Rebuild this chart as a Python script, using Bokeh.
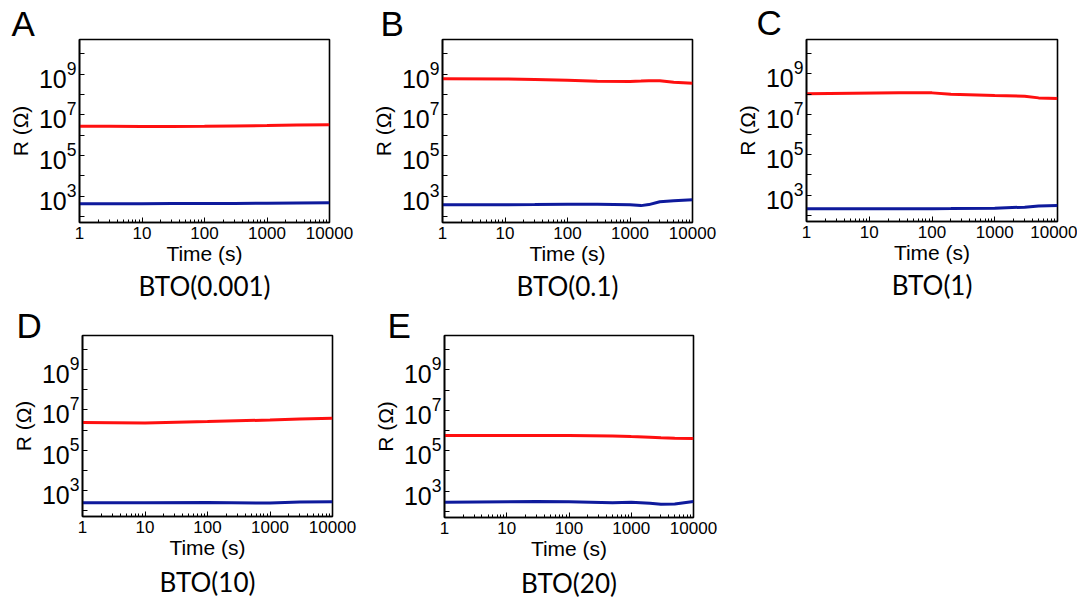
from bokeh.plotting import figure
from bokeh.layouts import row, column
from bokeh.models import FixedTicker, LogTickFormatter, PrintfTickFormatter, Title
from bokeh.embed import file_html
from bokeh.resources import INLINE

# ---------------- data ----------------
letters = ["A", "B", "C", "D", "E"]
subtitles = ["BTO(0.001)", "BTO(0.1)", "BTO(1)", "BTO(10)", "BTO(20)"]

# Panel A
t_A = [1, 3, 10, 30, 100, 300, 1000, 3000, 10000]
red_A = [2.75e6, 2.69e6, 2.63e6, 2.63e6, 2.69e6, 2.82e6, 2.95e6, 3.09e6, 3.24e6]
blue_A = [417, 417, 417, 427, 427, 437, 447, 457, 468]

# Panel B
t_B = [1, 10, 30, 100, 300, 1000, 1500, 2000, 3000, 5000, 10000]
red_B = [5.9e8, 5.75e8, 5.37e8, 5.01e8, 4.47e8, 4.27e8, 4.5e8, 4.68e8, 4.68e8, 3.98e8, 3.55e8]
blue_B = [372, 372, 380, 398, 398, 372, 339, 380, 525, 589, 661]

# Panel C
t_C = [1, 30, 100, 200, 1000, 3000, 5000, 10000]
red_C = [1.05e8, 1.15e8, 1.15e8, 9.8e7, 8.5e7, 7.8e7, 6.5e7, 6.0e7]
blue_C = [214, 214, 214, 218, 229, 257, 290, 309]

# Panel D
t_D = [1, 10, 100, 1000, 3000, 10000]
red_D = [2.34e6, 2.24e6, 2.63e6, 3.16e6, 3.55e6, 3.80e6]
blue_D = [240, 245, 251, 234, 263, 269]

# Panel E
t_E = [1, 30, 100, 500, 1000, 2000, 3000, 5000, 10000]
red_E = [5.62e5, 5.62e5, 5.62e5, 5.4e5, 5.01e5, 4.7e5, 4.37e5, 4.2e5, 4.07e5]
blue_E = [288, 309, 302, 269, 288, 257, 229, 234, 309]

# Axis ticks
y_major = [1e3, 1e5, 1e7, 1e9]
y_minor = [1e2, 1e4, 1e6, 1e8, 1e10]

RED = "#ff1010"
BLUE = "#0e1a9c"
FONT = "Liberation Sans"


def make_panel(letter, subtitle, t, red, blue, fw, fh, bl, br, bt, bb,
               let_off, let_standoff, sub_off, sub_standoff):
    p = figure(frame_width=fw, frame_height=fh,
               x_axis_type="log", y_axis_type="log",
               x_range=(1, 10000), y_range=(10 ** 1.7, 10 ** 10.7),
               output_backend="svg", toolbar_location=None,
               min_border_left=bl, min_border_right=br,
               min_border_top=bt, min_border_bottom=bb,
               background_fill_color="white", border_fill_color="white")
    p.line(t, red, line_color=RED, line_width=3)
    p.line(t, blue, line_color=BLUE, line_width=3)

    p.grid.visible = False
    p.outline_line_color = "black"
    p.outline_line_width = 1.6
    p.outline_line_alpha = 1.0

    for ax in (p.xaxis[0], p.yaxis[0]):
        ax.axis_line_color = "black"
        ax.axis_line_width = 1.6
        ax.major_tick_in = 5
        ax.major_tick_out = 0
        ax.minor_tick_in = 3
        ax.minor_tick_out = 0
        ax.major_tick_line_color = "black"
        ax.minor_tick_line_color = "black"
        ax.major_label_text_font = FONT
        ax.major_label_text_color = "black"
        ax.axis_label_text_font = FONT
        ax.axis_label_text_font_size = "21px"
        ax.axis_label_text_font_style = "normal"
        ax.axis_label_text_color = "black"

    p.xaxis.formatter = PrintfTickFormatter(format="%d")
    p.xaxis.axis_label = "Time (s)"
    p.xaxis.major_label_text_font_size = "17px"
    p.xaxis.major_label_standoff = 4
    p.xaxis.axis_label_standoff = 0

    p.yaxis.ticker = FixedTicker(ticks=y_major, minor_ticks=y_minor)
    p.yaxis.formatter = LogTickFormatter()
    p.yaxis.major_label_text_font_size = "25px"
    p.yaxis.minor_tick_in = 5
    p.yaxis.axis_label = "R (Ω)"
    p.yaxis.major_label_standoff = 3
    p.yaxis.axis_label_standoff = 4

    p.add_layout(Title(text=letter, align="left", offset=let_off,
                       text_font=FONT, text_font_size="35px",
                       text_font_style="normal", text_color="black",
                       standoff=let_standoff), "above")
    p.add_layout(Title(text=subtitle, align="center", offset=sub_off,
                       text_font="Lato", text_font_size="26px",
                       text_font_style="normal", text_color="black",
                       standoff=sub_standoff), "below")
    return p


pA = make_panel("A", subtitles[0], t_A, red_A, blue_A, 250, 183, 79, 39, 39, 78,
                -68, -6, 6, 1)
pB = make_panel("B", subtitles[1], t_B, red_B, blue_B, 250, 183, 71, 40, 39, 78,
                -62, -6, 3, 1)
pC = make_panel("C", subtitles[2], t_C, red_C, blue_C, 251, 182, 71, 20, 36, 82,
                -50, -4, -1, 0)
pD = make_panel("D", subtitles[3], t_D, red_D, blue_D, 250, 181, 82, 38, 33, 82,
                -66, -18, 0, 4)
pE = make_panel("E", subtitles[4], t_E, red_E, blue_E, 249, 182, 71, 40, 32, 82,
                -57, -19, 3, 4)

layout = column(row(pA, pB, pC), row(pD, pE))

html = file_html(layout, INLINE)
open("out.html", "w").write(html)
